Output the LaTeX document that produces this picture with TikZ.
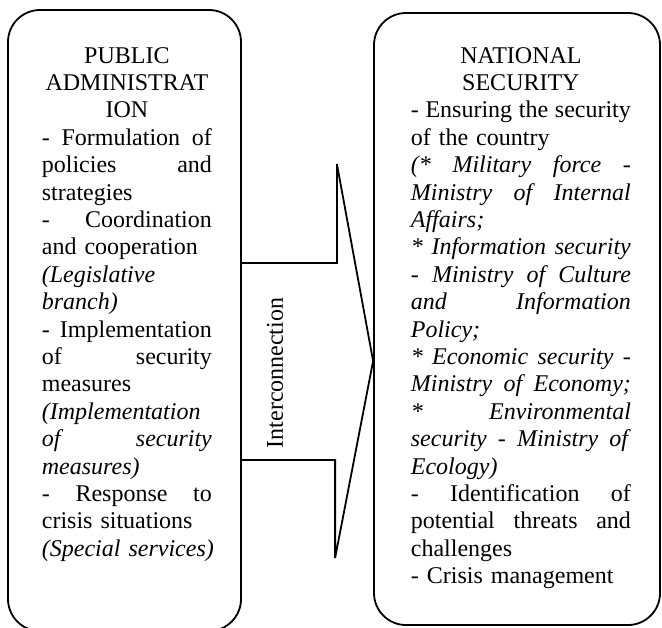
\documentclass[tikz,border=0pt]{standalone}
\usepackage{fontspec}
\setmainfont{Liberation Serif}
\newcommand{\tw}{85pt}
\newcommand{\jl}[1]{\makebox[\tw][s]{\spaceskip=0pt\xspaceskip=0pt\relax#1}}
\newcommand{\cl}[1]{\makebox[\tw][c]{#1}}
\begin{document}
\begin{tikzpicture}[x=.5pt,y=-.5pt,line width=.9pt,
    box/.style={draw,rounded corners=16pt,inner sep=0pt},
    txt/.style={inner sep=0pt,anchor=base west,align=left,
      font=\fontsize{12}{13.7}\selectfont}]
  \useasboundingbox (0,0) rectangle (662,627);
  \node[box,minimum width=116.5pt,minimum height=310.5pt] (admin) at (124.5,320.5) {};
  \node[box,minimum width=143pt,minimum height=306pt] (secur) at (517,319) {};
  % block arrow between the two boxes
  \coordinate (tail) at (admin.east |- 0,361);
  \draw[line join=miter] (tail) ++(0,-98) -- ++(95,0) -- ++(0,-99)
    -- (secur.west |- tail) -- ++(-38,197) -- ++(0,-98) -- ++(-95,0);
  \node[rotate=90,font=\fontsize{12}{13.7}\selectfont] (link) at (275,373) {Interconnection};
  \node[txt,text width=87pt] (admintxt) at (41,63) {\def\tw{85pt}%
    \cl{PUBLIC}\\
    \cl{ADMINISTRAT}\\
    \cl{ION}\\
    \jl{- Formulation of}\\
    \jl{policies and}\\
    strategies\\
    \jl{- Coordination}\\
    and cooperation\\
    \textit{(Legislative}\\
    \textit{branch)}\\
    \jl{- Implementation}\\
    \jl{of security}\\
    measures\\
    \textit{(Implementation}\\
    \jl{\textit{of security}}\\
    \textit{measures)}\\
    \jl{- Response to}\\
    crisis situations\\
    \mbox{\textit{(Special services)}}};
  \node[txt,text width=112pt] (securtxt) at (410,63) {\def\tw{110pt}%
    \cl{NATIONAL}\\
    \cl{SECURITY}\\
    \jl{- Ensuring the security}\\
    of the country\\
    \jl{\textit{(* Military force -}}\\
    \jl{\textit{Ministry of Internal}}\\
    \textit{Affairs;}\\
    \jl{\textit{* Information security}}\\
    \jl{\textit{- Ministry of Culture}}\\
    \jl{\textit{and Information}}\\
    \textit{Policy;}\\
    \jl{\textit{* Economic security -}}\\
    \jl{\textit{Ministry of Economy;}}\\
    \jl{\textit{* Environmental}}\\
    \jl{\textit{security - Ministry of}}\\
    \textit{Ecology)}\\
    \jl{- Identification of}\\
    \jl{potential threats and}\\
    challenges\\
    - Crisis management};
\end{tikzpicture}
\end{document}
